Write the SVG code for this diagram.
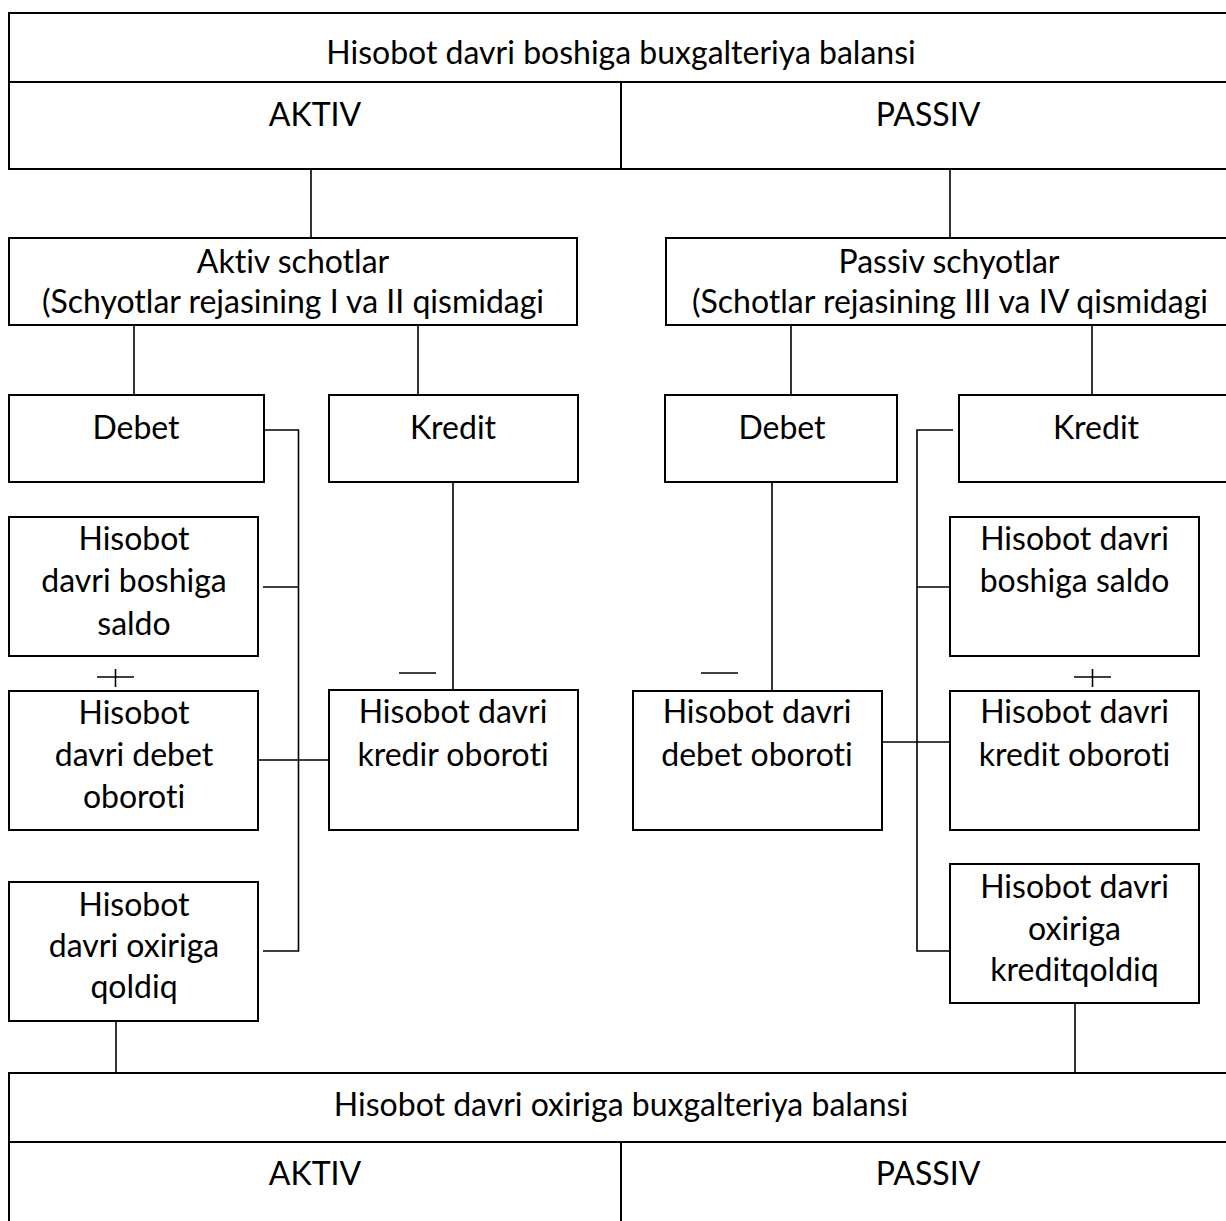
<svg xmlns="http://www.w3.org/2000/svg" width="1226" height="1221" viewBox="0 0 1226 1221">
  <style>
    .box { fill: #ffffff; stroke: #000000; stroke-width: 2; }
    .ln { fill: none; stroke: #000000; stroke-width: 1.6; }
    text { font-family: Lato, "Open Sans", "Liberation Sans", sans-serif; font-size: 32px; fill: #000000; text-anchor: middle; font-variant-ligatures: none; }
  </style>
  <rect width="1226" height="1221" fill="#ffffff"/>

  <!-- connectors -->
  <g id="connectors" class="ln">
    <!-- opening balance to account groups -->
    <line x1="311" y1="169" x2="311" y2="238"/>
    <line x1="950" y1="169" x2="950" y2="238"/>
    <!-- account groups to debit/credit -->
    <line x1="134" y1="325" x2="134" y2="395"/>
    <line x1="418" y1="325" x2="418" y2="395"/>
    <line x1="791" y1="325" x2="791" y2="395"/>
    <line x1="1092" y1="325" x2="1092" y2="395"/>
    <!-- active side debit bus -->
    <polyline points="264,430 298.5,430 298.5,951 263,951"/>
    <line x1="263" y1="587" x2="298.5" y2="587"/>
    <line x1="258" y1="760" x2="334" y2="760"/>
    <line x1="453" y1="482" x2="453" y2="690"/>
    <!-- passive side credit bus -->
    <polyline points="953,430 917,430 917,951 953,951"/>
    <line x1="917" y1="587" x2="953" y2="587"/>
    <line x1="882" y1="742" x2="959" y2="742"/>
    <line x1="772" y1="482" x2="772" y2="690"/>
    <!-- closing balances to final balance -->
    <line x1="116" y1="1021" x2="116" y2="1073"/>
    <line x1="1075" y1="1003" x2="1075" y2="1073"/>
    <!-- plus / minus signs -->
    <line x1="97" y1="677" x2="134" y2="677"/>
    <line x1="115.5" y1="669" x2="115.5" y2="687"/>
    <line x1="399" y1="673" x2="436" y2="673"/>
    <line x1="701" y1="673" x2="738" y2="673"/>
    <line x1="1074" y1="677" x2="1111" y2="677"/>
    <line x1="1092.5" y1="669" x2="1092.5" y2="687"/>
  </g>

  <!-- opening balance -->
  <g id="opening-balance">
    <rect class="box" x="9" y="13" width="1225" height="156"/>
    <line class="box" x1="9" y1="82" x2="1234" y2="82"/>
    <line class="box" x1="621" y1="82" x2="621" y2="169"/>
    <text x="621" y="64">Hisobot davri boshiga buxgalteriya balansi</text>
    <text x="315" y="126">AKTIV</text>
    <text x="928" y="126">PASSIV</text>
  </g>

  <g id="active-accounts">
    <rect class="box" x="9" y="238" width="568" height="87"/>
    <text x="293" y="273">Aktiv schotlar</text>
    <text x="293" y="313">(Schyotlar rejasining I va II qismidagi</text>
  </g>

  <g id="passive-accounts">
    <rect class="box" x="666" y="238" width="570" height="87"/>
    <text x="949" y="273">Passiv schyotlar</text>
    <text x="950" y="313">(Schotlar rejasining III va IV qismidagi</text>
  </g>

  <g id="a-debet">
    <rect class="box" x="9" y="395" width="255" height="87"/>
    <text x="136" y="439">Debet</text>
  </g>
  <g id="a-kredit">
    <rect class="box" x="329" y="395" width="249" height="87"/>
    <text x="453" y="439">Kredit</text>
  </g>
  <g id="p-debet">
    <rect class="box" x="665" y="395" width="232" height="87"/>
    <text x="782" y="439">Debet</text>
  </g>
  <g id="p-kredit">
    <rect class="box" x="959" y="395" width="275" height="87"/>
    <text x="1096" y="439">Kredit</text>
  </g>

  <g id="a-saldo">
    <rect class="box" x="9" y="517" width="249" height="139"/>
    <text x="134" y="550">Hisobot</text>
    <text x="134" y="592">davri boshiga</text>
    <text x="134" y="635">saldo</text>
  </g>
  <g id="p-saldo">
    <rect class="box" x="950" y="517" width="249" height="139"/>
    <text x="1074.5" y="550">Hisobot davri</text>
    <text x="1074.5" y="592">boshiga saldo</text>
  </g>

  <g id="a-debet-turnover">
    <rect class="box" x="9" y="691" width="249" height="139"/>
    <text x="134" y="724">Hisobot</text>
    <text x="134" y="766">davri debet</text>
    <text x="134" y="808">oboroti</text>
  </g>
  <g id="a-kredit-turnover">
    <rect class="box" x="329" y="690" width="249" height="140"/>
    <text x="453" y="723">Hisobot davri</text>
    <text x="453" y="766">kredir oboroti</text>
  </g>
  <g id="p-debet-turnover">
    <rect class="box" x="633" y="691" width="249" height="139"/>
    <text x="757" y="723">Hisobot davri</text>
    <text x="757" y="766">debet oboroti</text>
  </g>
  <g id="p-kredit-turnover">
    <rect class="box" x="950" y="691" width="249" height="139"/>
    <text x="1074.5" y="723">Hisobot davri</text>
    <text x="1074.5" y="766">kredit oboroti</text>
  </g>

  <g id="a-closing">
    <rect class="box" x="9" y="882" width="249" height="139"/>
    <text x="134" y="916">Hisobot</text>
    <text x="134" y="957">davri oxiriga</text>
    <text x="134" y="998">qoldiq</text>
  </g>
  <g id="p-closing">
    <rect class="box" x="950" y="864" width="249" height="139"/>
    <text x="1074.5" y="898">Hisobot davri</text>
    <text x="1074.5" y="940">oxiriga</text>
    <text x="1074.5" y="981">kreditqoldiq</text>
  </g>

  <!-- closing balance -->
  <g id="closing-balance">
    <rect class="box" x="9" y="1073" width="1225" height="160"/>
    <line class="box" x1="9" y1="1142" x2="1234" y2="1142"/>
    <line class="box" x1="621" y1="1142" x2="621" y2="1233"/>
    <text x="621" y="1116">Hisobot davri oxiriga buxgalteriya balansi</text>
    <text x="315" y="1185">AKTIV</text>
    <text x="928" y="1185">PASSIV</text>
  </g>
</svg>
